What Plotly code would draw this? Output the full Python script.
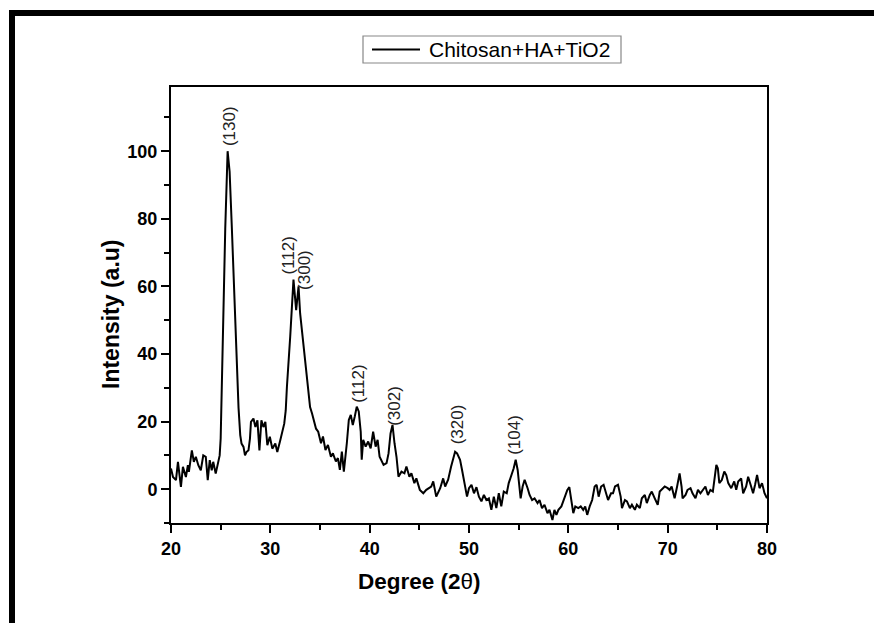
import plotly.graph_objects as go

DEGREE = [
    20.0, 20.2, 20.5, 20.7, 21.0, 21.2, 21.5, 21.7, 21.8, 22.1, 22.3, 22.5, 22.75, 23.0, 23.25, 23.5,
    23.7, 23.9, 24.1, 24.25, 24.5, 24.75, 24.9, 25.0, 25.2, 25.46, 25.7, 25.9, 26.13, 26.5, 26.8,
    26.97, 27.1, 27.3, 27.45, 27.6, 27.8, 27.95, 28.05, 28.3, 28.5, 28.7, 28.9, 29.1, 29.3, 29.5,
    29.7, 29.95, 30.2, 30.5, 30.7, 31.0, 31.2, 31.4, 31.55, 31.67, 32.0, 32.33, 32.6, 32.84, 33.0,
    33.18, 33.4, 33.68, 33.9, 34.0, 34.2, 34.4, 34.6, 34.82, 35.1, 35.3, 35.55, 35.8, 36.1, 36.3,
    36.6, 36.8, 37.0, 37.2, 37.4, 37.7, 37.9, 38.1, 38.3, 38.5, 38.7, 38.9, 39.1, 39.2, 39.35, 39.6,
    39.85, 40.1, 40.35, 40.6, 40.8, 41.0, 41.4, 41.7, 41.9, 42.1, 42.3, 42.5, 42.7, 42.9, 43.2, 43.5,
    43.7, 44.0, 44.2, 44.5, 44.7, 45.05, 45.4, 45.7, 46.2, 46.4, 46.7, 47.1, 47.4, 47.6, 47.9, 48.2,
    48.6, 48.8, 49.1, 49.3, 49.6, 49.8, 50.0, 50.25, 50.5, 50.75, 51.0, 51.25, 51.5, 51.75, 52.0,
    52.25, 52.5, 52.75, 53.0, 53.25, 53.5, 53.8, 54.0, 54.3, 54.5, 54.7, 54.9, 55.0, 55.2, 55.4,
    55.6, 55.9, 56.1, 56.35, 56.6, 56.9, 57.1, 57.35, 57.6, 57.9, 58.1, 58.4, 58.6, 58.8, 59.0,
    59.3, 59.6, 59.9, 60.1, 60.3, 60.5, 60.7, 61.0, 61.25, 61.5, 61.7, 61.9, 62.15, 62.4, 62.65,
    62.85, 63.05, 63.3, 63.55, 63.8, 64.0, 64.3, 64.5, 64.7, 65.0, 65.27, 65.4, 65.7, 65.9, 66.2,
    66.4, 66.7, 66.9, 67.2, 67.4, 67.7, 67.9, 68.2, 68.4, 68.7, 69.0, 69.2, 69.4, 69.7, 70.0, 70.2,
    70.4, 70.7, 70.95, 71.2, 71.4, 71.5, 71.8, 72.0, 72.3, 72.5, 72.8, 73.05, 73.3, 73.55, 73.8,
    74.05, 74.3, 74.55, 74.7, 74.9, 75.05, 75.2, 75.45, 75.7, 75.9, 76.1, 76.4, 76.7, 76.9, 77.1,
    77.4, 77.6, 77.9, 78.1, 78.35, 78.6, 78.8, 79.0, 79.25, 79.5, 79.75, 80.0,
]
INTENSITY = [
    6.1, 3.6, 2.7, 8.1, 0.7, 6.6, 3.6, 7.1, 5.1, 11.5, 8.1, 9.6, 7.1, 5.6, 10.0, 9.6,
    2.7, 8.6, 5.6, 8.1, 4.6, 7.6, 10.0, 15.0, 47.0, 77.0, 100.0, 94.0, 77.0, 47.0, 24.0,
    16.0, 13.5, 12.5, 10.0, 11.0, 11.5, 15.0, 19.9, 20.9, 18.4, 20.4, 11.5, 20.4, 18.4, 19.9,
    13.0, 15.5, 12.0, 13.5, 11.0, 14.5, 17.4, 19.4, 23.3, 30.3, 45.1, 62.0, 53.0, 60.0, 52.0,
    47.0, 39.2, 32.3, 25.4, 24.3, 22.4, 20.4, 17.9, 17.0, 13.6, 15.6, 11.6, 13.1, 9.6, 10.6,
    8.2, 9.2, 5.7, 11.1, 5.2, 13.6, 20.5, 22.0, 19.0, 21.5, 24.4, 23.0, 17.0, 8.7, 14.6, 12.6,
    14.1, 12.1, 17.0, 12.6, 14.6, 9.6, 7.2, 7.7, 10.6, 16.5, 19.0, 13.6, 9.6, 3.7, 5.2, 4.7,
    6.7, 3.7, 4.7, 1.8, 3.2, -0.2, -1.2, -0.2, 0.8, 2.3, -2.2, 0.3, 3.2, 0.8, 2.8, 6.7,
    11.1, 10.6, 8.7, 5.7, 0.8, -2.2, 0.3, 1.3, -1.2, 0.6, -2.2, -3.6, -1.7, -3.2, -2.7,
    -6.1, -2.2, -5.6, -1.2, -5.1, -0.7, -1.2, 1.8, 4.2, 6.2, 8.7, 5.7, 2.8, -2.7, 0.8,
    2.8, 0.3, -1.7, -3.2, -2.7, -4.1, -3.2, -5.6, -4.6, -7.1, -6.1, -9.1, -6.1, -7.6, -6.1,
    -5.1, -2.7, -0.2, 0.6, -2.7, -7.1, -5.1, -5.6, -5.1, -6.1, -5.1, -7.6, -5.1, -3.2, 0.8,
    1.3, -2.2, 0.8, 1.3, -1.2, -3.2, -1.2, -1.2, 0.8, 1.3, -2.2, -5.6, -3.2, -3.6, -5.6,
    -4.6, -6.1, -4.6, -5.6, -2.7, -1.7, -4.1, -1.7, -0.7, -2.7, -4.6, -0.7, -0.2, 0.8, 0.3, -0.2,
    0.8, -2.7, 0.8, 4.7, 0.8, -2.7, -1.7, -0.2, 0.3, -1.2, -2.7, -0.2, -1.2, -0.2, 0.8,
    -1.7, -0.2, -0.7, 2.3, 7.2, 6.2, 1.8, 2.7, 5.2, 4.2, 1.8, 0.3, 2.3, -0.2, 2.3,
    3.2, -1.2, 0.8, 3.7, 1.3, -1.2, 1.3, 4.2, 0.3, 1.8, -1.2, -2.7,
]

PEAK_LABELS = ["(130)", "(112)", "(300)", "(112)", "(302)", "(320)", "(104)"]
PEAK_X = [25.9, 31.83, 33.5, 38.87, 42.56, 48.93, 54.64]
PEAK_Y = [100.8, 62.8, 58.4, 25.1, 18.2, 12.8, 9.6]

SERIES_NAME = "Chitosan+HA+TiO2"
X_TITLE = "<b>Degree (2</b>θ<b>)</b>"
Y_TITLE = "<b>Intensity (a.u)</b>"
X_TICKS = [20, 30, 40, 50, 60, 70, 80]
Y_TICKS = [0, 20, 40, 60, 80, 100]

# ---- layout geometry (screen pixels; page body has an 8px margin) ----
OFF = 8
W, H = 882 - OFF, 623 - OFF
L, R, T, B = 171, 767, 87, 523          # plot area in screen pixels
def px(x):
    return (x - L) / (R - L)
def py(y):
    return (B - y) / (B - T)

FONT = "Liberation Sans, Arial, sans-serif"

fig = go.Figure()
fig.add_trace(go.Scatter(
    x=DEGREE, y=INTENSITY, mode="lines", name=SERIES_NAME,
    line=dict(color="black", width=2), showlegend=False,
))

annotations = []
for lab, xv, yv in zip(PEAK_LABELS, PEAK_X, PEAK_Y):
    annotations.append(dict(
        x=xv, y=yv, xref="x", yref="y", text=lab, showarrow=False,
        textangle=-90, xanchor="center", yanchor="bottom",
        font=dict(family=FONT, size=17, color="#222222"),
    ))

# axis titles (placed as in the reference, off-centre)
annotations.append(dict(
    x=px(111), y=py(314), xref="paper", yref="paper", text=Y_TITLE,
    showarrow=False, textangle=-90, xanchor="center", yanchor="middle",
    font=dict(family=FONT, size=23, color="black"),
))
annotations.append(dict(
    x=px(419), y=py(581), xref="paper", yref="paper", text=X_TITLE,
    showarrow=False, xanchor="center", yanchor="middle",
    font=dict(family=FONT, size=22.5, color="black"),
))

# manual legend text
annotations.append(dict(
    x=px(427), y=py(49.5), xref="paper", yref="paper", text=SERIES_NAME,
    showarrow=False, xanchor="left", yanchor="middle",
    font=dict(family=FONT, size=21, color="black"),
))

shapes = [
    # outer thick frame (cut off at right and bottom in the reference)
    dict(type="rect", xref="paper", yref="paper",
         x0=px(12), y0=py(640), x1=px(900), y1=py(13),
         line=dict(color="black", width=6), fillcolor="rgba(0,0,0,0)", layer="above"),
    # legend box
    dict(type="rect", xref="paper", yref="paper",
         x0=px(363), y0=py(63), x1=px(621), y1=py(36),
         line=dict(color="#888888", width=1.2), fillcolor="white"),
    # legend line sample
    dict(type="line", xref="paper", yref="paper",
         x0=px(372), y0=py(49.5), x1=px(420), y1=py(49.5),
         line=dict(color="black", width=2)),
]

axis_common = dict(
    showline=True, linecolor="black", linewidth=2, mirror=True,
    ticks="outside", ticklen=8, tickwidth=2, tickcolor="black",
    showgrid=False, zeroline=False,
    tickfont=dict(family=FONT, size=18, color="black", weight="bold"),
)

fig.update_layout(
    width=W, height=H,
    margin=dict(l=L - OFF, r=W - (R - OFF), t=T - OFF, b=H - (B - OFF)),
    paper_bgcolor="white", plot_bgcolor="white",
    xaxis=dict(
        range=[20, 80], tickvals=X_TICKS,
        minor=dict(ticks="outside", ticklen=5, tickwidth=2, tickcolor="black", dtick=5, tick0=0),
        **axis_common,
    ),
    yaxis=dict(
        range=[-10, 119], tickvals=Y_TICKS,
        minor=dict(ticks="outside", ticklen=5, tickwidth=2, tickcolor="black", dtick=10, tick0=0),
        **axis_common,
    ),
    annotations=annotations,
    shapes=shapes,
    showlegend=False,
)

fig.write_html("out.html")
